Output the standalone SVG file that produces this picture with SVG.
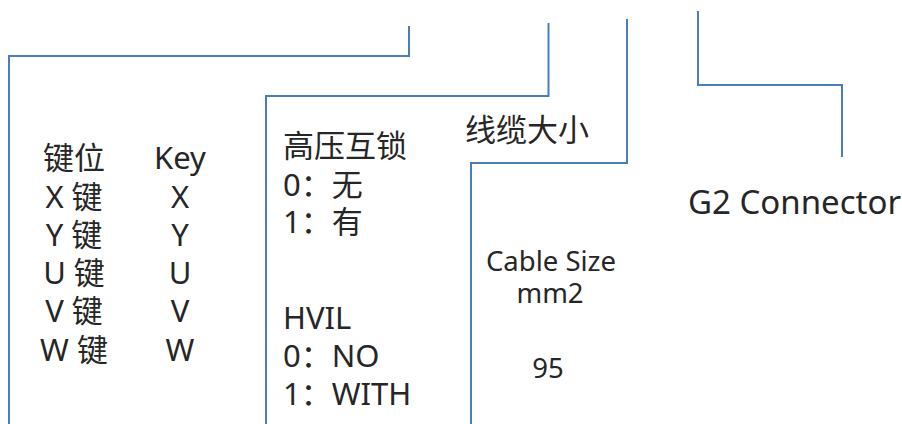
<svg xmlns="http://www.w3.org/2000/svg" width="902" height="424" viewBox="0 0 902 424">
<style>
.ln{fill:none;stroke:#4a7ebb;stroke-width:2}
text{font-family:"Noto Sans","Noto Sans CJK SC",sans-serif;fill:#262626;font-size:31px}
.c{text-anchor:middle}
.s{font-size:27.5px}
.g{font-size:33px}
</style>
<rect width="902" height="424" fill="#fff"/>
<g id="connectors">
<path class="ln" d="M409,26 V56 H9 V424"/>
<path class="ln" d="M548.5,23 V96 H266 V424"/>
<path class="ln" d="M627,19 V163 H471 V424"/>
<path class="ln" d="M698,11 V85 H842 V157"/>
</g>
<g id="key">
<text class="c" x="74" y="169">键位</text>
<text class="c" x="74" y="208">X 键</text>
<text class="c" x="74" y="246">Y 键</text>
<text class="c" x="74" y="284">U 键</text>
<text class="c" x="74" y="322">V 键</text>
<text class="c" x="74" y="361">W 键</text>
<text class="c" x="180" y="169">Key</text>
<text class="c" x="180" y="208">X</text>
<text class="c" x="180" y="246">Y</text>
<text class="c" x="180" y="284">U</text>
<text class="c" x="180" y="322">V</text>
<text class="c" x="180" y="361">W</text>
</g>
<g id="hvil">
<text x="283" y="157">高压互锁</text>
<text x="283" y="196">0：无</text>
<text x="283" y="233">1：有</text>
<text x="283" y="329">HVIL</text>
<text x="283" y="367">0：NO</text>
<text x="283" y="405">1：WITH</text>
</g>
<g id="cable">
<text x="465" y="141">线缆大小</text>
<text class="c s" x="551" y="271">Cable Size</text>
<text class="c s" x="550" y="303">mm2</text>
<text class="c s" x="548" y="378">95</text>
</g>
<g id="connector">
<text class="g" x="688" y="214">G2 Connector</text>
</g>
</svg>
